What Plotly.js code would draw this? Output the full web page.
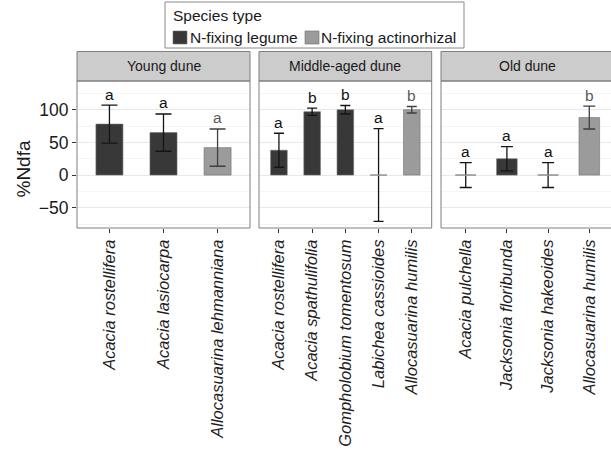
<!DOCTYPE html>
<html>
<head>
<meta charset="utf-8">
<script src="https://cdn.plot.ly/plotly-3.0.1.min.js"></script>
<style>
html,body{margin:0;padding:0;overflow:hidden;background:#fff;}
#chart{width:616px;height:454px;}
</style>
</head>
<body>
<div id="chart"></div>
<script>
// ---- data ----
const panelNames = ["Young dune", "Middle-aged dune", "Old dune"];
const typeNames = ["N-fixing legume", "N-fixing actinorhizal"];
const legendTitle = "Species type";
const yTitle = "%Ndfa";

const youngSpecies = ["Acacia rostellifera", "Acacia lasiocarpa", "Allocasuarina lehmanniana"];
const youngType    = ["N-fixing legume", "N-fixing legume", "N-fixing actinorhizal"];
const youngNdfa    = [78, 65, 42];
const youngSE      = [29, 28.5, 28.5];
const youngLetters = ["a", "a", "a"];

const middleSpecies = ["Acacia rostellifera", "Acacia spathulifolia", "Gompholobium tomentosum", "Labichea cassioides", "Allocasuarina humilis"];
const middleType    = ["N-fixing legume", "N-fixing legume", "N-fixing legume", "N-fixing legume", "N-fixing actinorhizal"];
const middleNdfa    = [38, 97, 100, 0, 100];
const middleSE      = [26, 5.5, 6.5, 71, 5];
const middleLetters = ["a", "b", "b", "a", "b"];

const oldSpecies = ["Acacia pulchella", "Jacksonia floribunda", "Jacksonia hakeoides", "Allocasuarina humilis"];
const oldType    = ["N-fixing legume", "N-fixing legume", "N-fixing legume", "N-fixing actinorhizal"];
const oldNdfa    = [0, 25, 0, 88];
const oldSE      = [19, 18.5, 19, 17.5];
const oldLetters = ["a", "a", "a", "b"];

const yTickVals = [-50, 0, 50, 100];
const yMinorVals = [-75, -25, 25, 75, 125];

// ---- styling ----
const FONT = "Liberation Sans, Arial, Helvetica, sans-serif";
const fillColor = {"N-fixing legume": "#383838", "N-fixing actinorhizal": "#9b9b9b"};
const errColor  = {"N-fixing legume": "#141414", "N-fixing actinorhizal": "#3f3f3f"};
const letterColor = {"N-fixing legume": "#111111", "N-fixing actinorhizal": "#5a5a5a"};

const W = 616, H = 454;
const ML = 77, MR = 2, MT = 81, MB = 226;
const plotW = W - ML - MR, plotH = H - MT - MB;
const panelPx = [[77, 250], [259, 431.7], [441, 614]];
const domains = panelPx.map(p => [(p[0] - ML) / plotW, (p[1] - ML) / plotW]);
const stripTop = 1 + 29.5 / plotH;
const px2x = px => (px - ML) / plotW;
const px2y = py => 1 + (MT - py) / plotH;

const panels = [
  {name: panelNames[0], species: youngSpecies, type: youngType, ndfa: youngNdfa, se: youngSE, letters: youngLetters},
  {name: panelNames[1], species: middleSpecies, type: middleType, ndfa: middleNdfa, se: middleSE, letters: middleLetters},
  {name: panelNames[2], species: oldSpecies, type: oldType, ndfa: oldNdfa, se: oldSE, letters: oldLetters}
];

const traces = [];
const annotations = [];
const shapes = [];
const layout = {
  width: W, height: H,
  margin: {l: ML, r: MR, t: MT, b: MB, pad: 0},
  paper_bgcolor: "#ffffff", plot_bgcolor: "#ffffff",
  font: {family: FONT, color: "#1a1a1a"},
  barmode: "overlay",
  showlegend: false
};

panels.forEach((p, k) => {
  const xa = k === 0 ? "x" : "x" + (k + 1);
  const ya = k === 0 ? "y" : "y" + (k + 1);
  const n = p.species.length;
  const idx = p.species.map((_, i) => i);
  const pxPerUnit = (panelPx[k][1] - panelPx[k][0]) / (n + 0.2);
  const capW = Math.round(0.15 * pxPerUnit);

  typeNames.forEach(t => {
    const ii = idx.filter(i => p.type[i] === t);
    if (!ii.length) return;
    traces.push({
      type: "bar",
      name: t,
      legendgroup: t,
      xaxis: xa, yaxis: ya,
      x: ii,
      y: ii.map(i => p.ndfa[i]),
      width: 0.5,
      marker: {color: fillColor[t], line: {color: "#6e6e6e", width: 0.6}},
      error_y: {type: "data", array: ii.map(i => p.se[i]), visible: true,
                color: errColor[t], thickness: 1.3, width: capW},
      hoverinfo: "x+y"
    });
  });

  // zero-height bars shown as their outline
  const zx = [], zy = [];
  idx.filter(i => p.ndfa[i] === 0).forEach(i => {
    zx.push(i - 0.25, i + 0.25, null);
    zy.push(0, 0, null);
  });
  if (zx.length) {
    traces.push({type: "scatter", mode: "lines", xaxis: xa, yaxis: ya, x: zx, y: zy,
      line: {color: "#a3a3a3", width: 1.3}, hoverinfo: "skip"});
  }

  // significance letters
  idx.forEach(i => {
    annotations.push({
      xref: xa, yref: ya, x: i, y: p.ndfa[i] + p.se[i] + 17,
      text: p.letters[i], showarrow: false, xanchor: "center", yanchor: "middle",
      font: {family: FONT, size: 15.5, color: letterColor[p.type[i]]}
    });
  });

  // axes
  layout[k === 0 ? "xaxis" : "xaxis" + (k + 1)] = {
    domain: domains[k], anchor: ya,
    range: [-0.6, n - 0.4], fixedrange: true,
    tickmode: "array", tickvals: idx, ticktext: p.species,
    tickangle: -90, ticks: "outside", ticklen: 4, tickwidth: 1, tickcolor: "#333333",
    tickfont: {family: FONT, size: 16.5, color: "#1f1f1f", style: "italic"},
    showgrid: false, zeroline: false, showline: false
  };
  const yax = {
    domain: [0, 1], anchor: xa,
    range: [-81, 144], fixedrange: true,
    tickmode: "array", tickvals: yTickVals,
    showgrid: true, gridcolor: "#e8e8e8", gridwidth: 1,
    minor: {tickmode: "array", tickvals: yMinorVals, showgrid: true, gridcolor: "#f3f3f3", gridwidth: 0.8, ticks: ""},
    zeroline: false, showline: false
  };
  if (k === 0) {
    Object.assign(yax, {
      ticks: "outside", ticklen: 4, tickwidth: 1, tickcolor: "#333333",
      tickfont: {family: FONT, size: 17.5, color: "#1a1a1a"}
    });
  } else {
    Object.assign(yax, {matches: "y", showticklabels: false, ticks: ""});
  }
  layout[k === 0 ? "yaxis" : "yaxis" + (k + 1)] = yax;

  // strip + panel border
  shapes.push({type: "rect", xref: "paper", yref: "paper",
    x0: domains[k][0], x1: domains[k][1], y0: 1, y1: stripTop,
    fillcolor: "#cccccc", line: {color: "#7f7f7f", width: 1}, layer: "above"});
  shapes.push({type: "rect", xref: "paper", yref: "paper",
    x0: domains[k][0], x1: domains[k][1], y0: 0, y1: 1,
    fillcolor: "rgba(0,0,0,0)", line: {color: "#7f7f7f", width: 1}, layer: "above"});
  annotations.push({xref: "paper", yref: "paper",
    x: (domains[k][0] + domains[k][1]) / 2, y: (1 + stripTop) / 2,
    text: p.name, showarrow: false, xanchor: "center", yanchor: "middle",
    font: {family: FONT, size: 14, color: "#1a1a1a"}});
});

// y axis title
annotations.push({xref: "paper", yref: "paper", x: px2x(23), y: px2y(169.5),
  text: yTitle, textangle: -90, showarrow: false, xanchor: "center", yanchor: "middle",
  font: {family: FONT, size: 19, color: "#1a1a1a"}});

// ---- legend (box, title, keys, labels) ----
const LEG = {x0: 165, x1: 464, y0: 2, y1: 48};
shapes.push({type: "rect", xref: "paper", yref: "paper",
  x0: px2x(LEG.x0), x1: px2x(LEG.x1), y0: px2y(LEG.y1), y1: px2y(LEG.y0),
  fillcolor: "#ffffff", line: {color: "#8a8a8a", width: 1}, layer: "above"});
annotations.push({xref: "paper", yref: "paper", x: px2x(170.5), y: px2y(15.5),
  text: legendTitle, showarrow: false, xanchor: "left", yanchor: "middle",
  font: {family: FONT, size: 15.5, color: "#1a1a1a"}});
const keyX = [173, 305];
const labX = [188, 319];
typeNames.forEach((t, j) => {
  shapes.push({type: "rect", xref: "paper", yref: "paper",
    x0: px2x(keyX[j]), x1: px2x(keyX[j] + 14), y0: px2y(44), y1: px2y(31),
    fillcolor: fillColor[t], line: {color: "#6e6e6e", width: 0.6}, layer: "above"});
  annotations.push({xref: "paper", yref: "paper", x: px2x(labX[j]), y: px2y(37.5),
    text: t, showarrow: false, xanchor: "left", yanchor: "middle",
    font: {family: FONT, size: 15.5, color: "#1a1a1a"}});
});

layout.annotations = annotations;
layout.shapes = shapes;

Plotly.newPlot("chart", traces, layout, {displayModeBar: false, staticPlot: true});
</script>
</body>
</html>
